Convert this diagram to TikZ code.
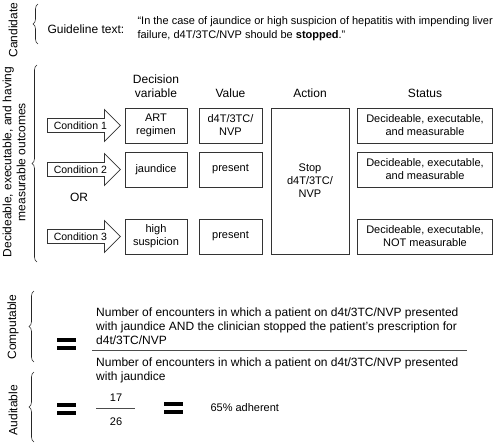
\documentclass[tikz,border=0pt]{standalone}
\usepackage{fontspec}
\setmainfont{Liberation Sans}
\usepackage{tikz}
\usetikzlibrary{shapes.arrows,decorations.pathreplacing}
\tikzset{
  cellbox/.style={
    rectangle,
    draw=black!80, line width=0.8pt,
    font=\fontsize{11}{13}\selectfont,
    align=center,
    inner sep=0pt},
  condarrow/.style={
    single arrow,
    draw=black!80, line width=0.8pt,
    font=\fontsize{10.5}{12}\selectfont,
    single arrow tip angle=90,
    single arrow head extend=8.5pt,
    minimum height=73pt, minimum width=32pt,
    inner xsep=2pt, inner ysep=2.5pt,
    anchor=tail},
  colhead/.style={align=center},
  sidelabel/.style={rotate=90, align=center},
  decoration={brace, amplitude=5pt},
  tuborg/.style={decorate, draw=black!85, line width=0.6pt},
  eqbar/.style={line width=3.4pt, black},
  fracline/.style={draw=black!70, line width=0.8pt},
}
\begin{document}
\begin{tikzpicture}[x=1pt,y=-1pt,font=\fontsize{12}{14}\selectfont]
      \useasboundingbox (0,0) rectangle (494,444);

      % Candidate
      \node[sidelabel] (candlbl) at (13,30) {Candidate};
      \draw[tuborg] (38,44) -- (38,4);
      \node[anchor=west] (gltext) at (44,29) {Guideline text:};
      \node[anchor=west, align=left, font=\fontsize{11}{14}\selectfont] (quote) at (134,29)
        {``In the case of jaundice or high suspicion of hepatitis with impending liver\\
         failure, d4T/3TC/NVP should be \textbf{stopped}.''};

      % Decideable, executable, measurable
      \node[sidelabel] (declbl) at (14,162) {Decideable, executable, and having\\measurable outcomes};
      \draw[tuborg] (37,262) -- (37,65);

      \node[colhead] (hdrvar) at (156,86.5) {Decision\\variable};
      \node[colhead] (hdrval) at (230.5,93) {Value};
      \node[colhead] (hdract) at (310,93) {Action};
      \node[colhead] (hdrstat) at (425,93) {Status};

      \node[condarrow] (cond1) at (47,125.5) {Condition 1};
      \node[condarrow] (cond2) at (47,169.5) {Condition 2};
      \node[condarrow] (cond3) at (47,236.5) {Condition 3};
      \node (orlbl) at (79,197) {OR};

      \node[cellbox, minimum width=62pt, minimum height=35pt] (var1) at (156,125.5) {ART\\regimen};
      \node[cellbox, minimum width=62pt, minimum height=35pt] (var2) at (156,169.5) {jaundice};
      \node[cellbox, minimum width=62pt, minimum height=35pt] (var3) at (156,236.5) {high\\suspicion};

      \node[cellbox, minimum width=63pt, minimum height=35pt] (val1) at (230.5,125.5) {d4T/3TC/\\NVP};
      \node[cellbox, minimum width=63pt, minimum height=35pt] (val2) at (230.5,169.5) {present};
      \node[cellbox, minimum width=63pt, minimum height=35pt] (val3) at (230.5,236.5) {present};

      \node[cellbox, minimum width=78pt, minimum height=146pt] (act) at (310,181) {Stop\\d4T/3TC/\\NVP};

      \node[cellbox, minimum width=135pt, minimum height=35pt] (stat1) at (425,125.5) {Decideable, executable,\\and measurable};
      \node[cellbox, minimum width=135pt, minimum height=35pt] (stat2) at (425,169.5) {Decideable, executable,\\and measurable};
      \node[cellbox, minimum width=135pt, minimum height=35pt] (stat3) at (425,236.5) {Decideable, executable,\\NOT measurable};

      % Computable
      \node[sidelabel] (complbl) at (13,327) {Computable};
      \draw[tuborg] (34,362) -- (34,291);
      \draw[eqbar] (57,340) -- (76,340); \draw[eqbar] (57,348) -- (76,348);
      \node[anchor=south west, align=left, inner sep=0pt] (numer) at (96,345)
        {Number of encounters in which a patient on d4t/3TC/NVP presented\\
         with jaundice AND the clinician stopped the patient's prescription for\\
         d4t/3TC/NVP};
      \draw[fracline] (92,350) -- (467,350);
      \node[anchor=north west, align=left, inner sep=0pt] (denom) at (96,358)
        {Number of encounters in which a patient on d4t/3TC/NVP presented\\
         with jaundice};

      % Auditable
      \node[sidelabel] (audlbl) at (13,410) {Auditable};
      \draw[tuborg] (34,442) -- (34,372);
      \draw[eqbar] (57,405) -- (76,405); \draw[eqbar] (57,413) -- (76,413);
      \node[font=\fontsize{11}{13}\selectfont] (num17) at (116,398) {17};
      \draw[fracline] (96,408) -- (135,408);
      \node[font=\fontsize{11}{13}\selectfont] (num26) at (116,422) {26};
      \draw[eqbar] (164,404) -- (183,404); \draw[eqbar] (164,412) -- (183,412);
      \node[anchor=west, font=\fontsize{11}{13}\selectfont] (adher) at (207,408) {65\% adherent};
    \end{tikzpicture}
\end{document}
